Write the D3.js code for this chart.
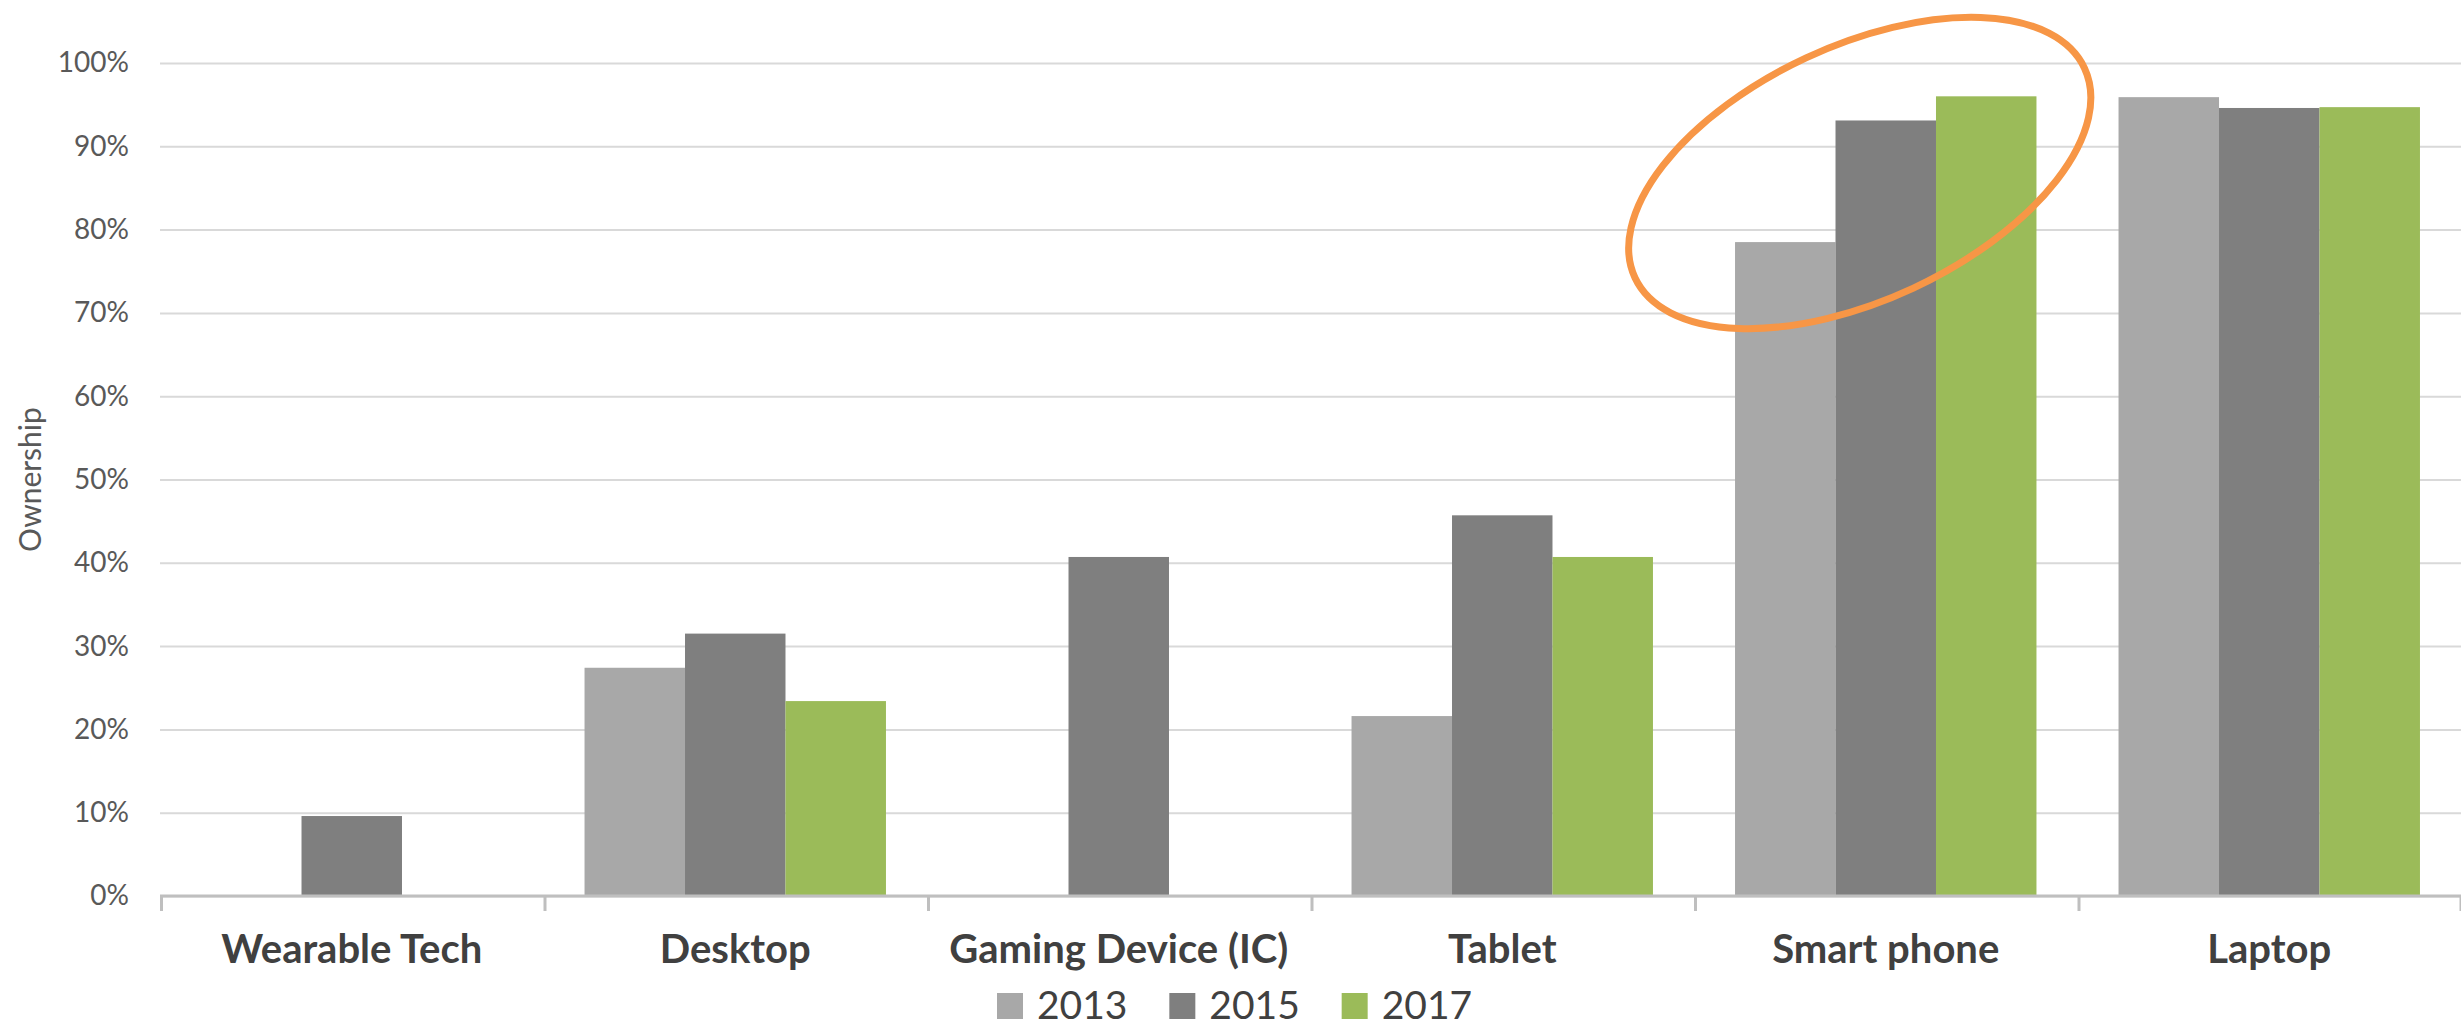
<!DOCTYPE html>
<html lang="en">
<head>
   <meta charset="UTF-8">
   <title>Device ownership</title>
   <script src="https://d3js.org/d3.v7.min.js"></script>
   <style>
      body { margin: 0; background: #fff; }
      text { font-family: Lato, 'Open Sans', sans-serif; }
      .grid line { stroke: #d9d9d9; stroke-width: 2; }
      .grid text { fill: #595959; font-size: 28px; }
      .cat text { fill: #404040; font-size: 40px; font-weight: bold; }
      .legend text { fill: #404040; font-size: 39px; }
   </style>
</head>
<body>
   <script>
      const categories = ['Wearable Tech', 'Desktop', 'Gaming Device (IC)', 'Tablet', 'Smart phone', 'Laptop'];
      const years = ['2013', '2015', '2017'];
      const own2013 = [null, 27.4, null, 21.6, 78.5, 95.9];
      const own2015 = [9.6, 31.5, 40.7, 45.7, 93.1, 94.6];
      const own2017 = [null, 23.4, null, 40.7, 96.0, 94.7];
      const yTicks = [0, 10, 20, 30, 40, 50, 60, 70, 80, 90, 100];
      const colors = ['#a8a8a8', '#7f7f7f', '#9bbb59'];

      const width = 2461;
      const height = 1028;
      const margins = { top: 63, right: 0, bottom: 132, left: 160 };
      const series = [own2013, own2015, own2017];

      const svg = d3.select('body').append('svg')
         .attr('width', width).attr('height', height);

      const y = d3.scaleLinear()
         .domain([0, 100])
         .range([height - margins.bottom, margins.top]);

      const x0 = d3.scaleBand()
         .domain(categories)
         .range([margins.left, width - margins.right]);

      const gap = x0.bandwidth() * 0.107;
      const x1 = d3.scaleBand()
         .domain(years)
         .range([gap, x0.bandwidth() - gap]);

      // gridlines + % labels
      const grid = svg.append('g')
         .attr('class', 'grid')
         .attr('transform', `translate(${margins.left}, 0)`)
         .call(d3.axisLeft(y)
            .tickValues(yTicks)
            .tickSize(-(width - margins.left - margins.right))
            .tickPadding(31)
            .tickFormat(d => d + '%'));
      grid.select('.domain').remove();

      // y axis title
      svg.append('text')
         .attr('transform', `translate(41, ${y(50)}) rotate(-90)`)
         .attr('text-anchor', 'middle')
         .attr('fill', '#595959')
         .attr('font-size', '30px')
         .text('Ownership');

      // bars
      const groups = svg.append('g').selectAll('g')
         .data(categories)
         .join('g')
         .attr('transform', d => `translate(${x0(d)}, 0)`);

      groups.selectAll('rect')
         .data((d, i) => years.map((yr, j) => ({ year: yr, value: series[j][i], color: colors[j] })))
         .join('rect')
         .filter(d => d.value != null)
         .attr('x', d => x1(d.year))
         .attr('y', d => y(d.value))
         .attr('width', x1.bandwidth())
         .attr('height', d => y(0) - y(d.value))
         .attr('fill', d => d.color);

      // category axis: labels
      const cat = svg.append('g')
         .attr('class', 'cat')
         .attr('transform', `translate(0, ${y(0)})`)
         .call(d3.axisBottom(x0).tickSize(0).tickPadding(39));
      cat.select('.domain').remove();

      // axis line and boundary ticks
      svg.append('line')
         .attr('x1', margins.left).attr('x2', width)
         .attr('y1', y(0)).attr('y2', y(0))
         .attr('stroke', '#bfbfbf').attr('stroke-width', 3);

      const bounds = categories.map(c => x0(c)).concat([x0.range()[1] - 1.5]);
      svg.append('g').selectAll('line')
         .data(bounds)
         .join('line')
         .attr('x1', d => d + 1.5).attr('x2', d => d + 1.5)
         .attr('y1', y(0)).attr('y2', y(0) + 15)
         .attr('stroke', '#bfbfbf').attr('stroke-width', 3);

      // legend
      const lx = d3.scaleBand().domain(years).range([997, 1514]);
      const legend = svg.append('g').attr('class', 'legend')
         .selectAll('g')
         .data(years)
         .join('g')
         .attr('transform', d => `translate(${lx(d)}, 993)`);
      legend.append('rect')
         .attr('width', 26).attr('height', 26)
         .attr('fill', (d, i) => colors[i]);
      legend.append('text')
         .attr('x', 40).attr('y', 26)
         .text(d => d);

      // highlight ring around Smart phone
      const ringX = x0('Smart phone') + x0.bandwidth() / 2 - 26;
      const ringY = y(86.8);
      svg.append('ellipse')
         .attr('cx', ringX)
         .attr('cy', ringY)
         .attr('rx', 248)
         .attr('ry', 127)
         .attr('transform', `rotate(-25, ${ringX}, ${ringY})`)
         .attr('fill', 'none')
         .attr('stroke', '#f79646')
         .attr('stroke-width', 7);
   </script>
</body>
</html>
